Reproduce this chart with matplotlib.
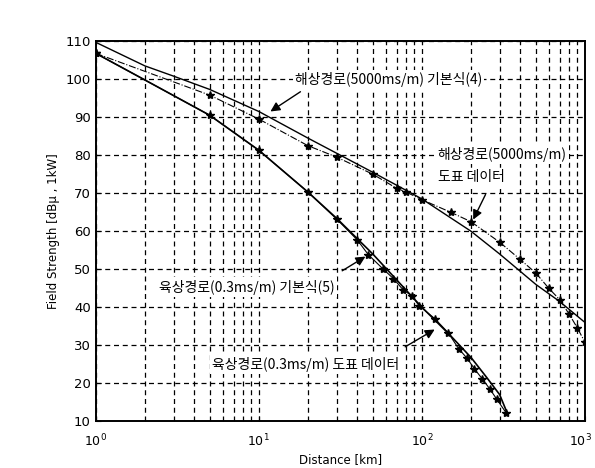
import numpy as np
import matplotlib
matplotlib.use("Agg")
import matplotlib.pyplot as plt
import matplotlib.transforms as mtransforms

# sea path (5000 mS/m) - formula (4)
sea_formula_km = [1, 2, 3, 5, 10, 20, 50, 100, 200, 300, 500, 700, 1000]
sea_formula_db = [109.7, 103.5, 100.8, 97.3, 91.5, 84.5, 75.5, 68.5, 60.0, 54.0, 46.0, 41.5, 36.0]

# sea path - chart data
sea_data_km = [1, 5, 10, 20, 30, 50, 70, 80, 100, 150, 200, 300, 400, 500, 600, 700, 800, 900, 1000]
sea_data_db = [106.8, 95.8, 89.5, 82.5, 79.5, 75.0, 71.3, 70.3, 68.3, 65.0, 62.5, 57.1, 52.6,
               49.0, 45.0, 42.0, 38.2, 34.5, 30.8]

# land path (0.3 mS/m) - formula (5)
land_formula_km = [1, 2, 5, 10, 20, 30, 50, 70, 100, 150, 200, 250, 300, 335]
land_formula_db = [106.8, 99.8, 90.5, 81.3, 70.3, 63.4, 54.0, 47.2, 40.0, 32.5, 26.8, 21.5, 17.0, 12.0]

# land path - chart data
land_data_km = [1, 5, 10, 20, 30, 40, 47, 58, 67, 77, 87, 96, 120, 145, 168, 190,
                210, 235, 260, 288, 330]
land_data_db = [106.8, 90.5, 81.3, 70.3, 63.2, 57.8, 53.8, 50.0, 47.5, 44.5, 43.0, 40.4,
                37.0, 33.3, 29.1, 26.5, 23.8, 21.1, 18.6, 15.8, 12.1]

x_ticks = [1, 10, 100, 1000]
x_ticklabels = [r"$10^0$", r"$10^1$", r"$10^2$", r"$10^3$"]

KR = ["Noto Sans CJK KR", "DejaVu Sans"]

fig = plt.figure(figsize=(5.95, 4.68), dpi=100)
ax = fig.add_axes([0.161, 0.1, 0.822, 0.812])

ax.plot(sea_formula_km, sea_formula_db, color="black", lw=1.0)
ax.plot(sea_data_km, sea_data_db, color="black", lw=0.8, ls="-.",
        marker="*", ms=6)
ax.plot(land_formula_km, land_formula_db, color="black", lw=1.2)
ax.plot(land_data_km, land_data_db, color="black", lw=0.8,
        marker="*", ms=6)

ax.set_xscale("log")
ax.set_xlim(1, 1000)
ax.set_ylim(10, 110)
ax.set_yticks(np.arange(10, 111, 10))
ax.set_xticks(x_ticks)
ax.set_xticklabels(x_ticklabels)

ax.grid(True, which="major", color="black", ls=(0, (4, 3)), lw=0.9)
ax.grid(True, which="minor", axis="x", color="black", ls=(0, (4, 3)), lw=0.9)
ax.tick_params(which="both", direction="in", labelsize=9.5)
ax.tick_params(axis="x", labelsize=9, pad=8)
for s in ax.spines.values():
    s.set_linewidth(1.4)

# nudge the last x label so it stays inside the figure
last = ax.get_xticklabels()[-1]
last.set_transform(last.get_transform() +
                   mtransforms.ScaledTranslation(-4 / 100, 0, fig.dpi_scale_trans))

ax.set_xlabel("Distance [km]", fontsize=8.5, labelpad=3)
ax.set_ylabel("Field Strength [dBμ , 1kW]", fontsize=8.5, labelpad=4)

arrow = dict(arrowstyle="-|>", color="black", lw=1.0, mutation_scale=14)
box = dict(facecolor="white", edgecolor="none", pad=1.5)

ax.text(16.6, 100.0, "해상경로(5000ms/m) 기본식(4)", family=KR, fontsize=10,
        weight="medium", va="center", ha="left", bbox=box)
ax.annotate("", xy=(11.4, 91.1), xytext=(18.6, 97.1), arrowprops=arrow)

ax.text(125, 80.3, "해상경로(5000ms/m)", family=KR, fontsize=10, weight="medium",
        va="center", ha="left", bbox=box)
ax.text(125, 74.2, "도표 데이터", family=KR, fontsize=10, weight="medium",
        va="center", ha="left", bbox=box)
ax.annotate("", xy=(203, 62.4), xytext=(250, 70.3), arrowprops=arrow)

ax.text(2.44, 45.3, "육상경로(0.3ms/m) 기본식(5)", family=KR, fontsize=10,
        weight="medium", va="center", ha="left", bbox=box)
ax.annotate("", xy=(46.6, 53.7), xytext=(31.4, 49.2), arrowprops=arrow)

ax.text(5.15, 25.0, "육상경로(0.3ms/m) 도표 데이터", family=KR, fontsize=10,
        weight="medium", va="center", ha="left", bbox=box)
ax.annotate("", xy=(124, 34.5), xytext=(76.4, 29.2), arrowprops=arrow)

fig.savefig("out.png", dpi=100)
